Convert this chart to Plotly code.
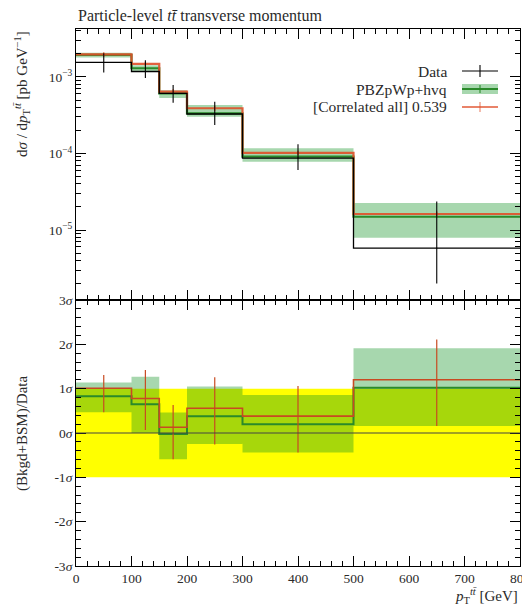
import plotly.graph_objects as go
from plotly.subplots import make_subplots

# ---------------- data ----------------
edges = [0, 100, 150, 200, 300, 500, 800]
centers = [50, 125, 175, 250, 400, 650]

data_val = [1.55e-3, 1.18e-3, 6.1e-4, 3.28e-4, 8.7e-5, 5.8e-6]
data_hi = [2.04e-3, 1.66e-3, 7.86e-4, 4.76e-4, 1.32e-4, 2.35e-5]
data_lo = [1.14e-3, 0.97e-3, 4.61e-4, 2.36e-4, 6.1e-5, 2.0e-6]

mc_val = [1.94e-3, 1.30e-3, 6.12e-4, 3.35e-4, 9.08e-5, 1.49e-5]
mc_hi = [2.08e-3, 1.42e-3, 6.7e-4, 4.3e-4, 1.17e-4, 2.25e-5]
mc_lo = [1.80e-3, 1.18e-3, 5.3e-4, 3.03e-4, 7.82e-5, 7.9e-6]

red_val = [1.97e-3, 1.48e-3, 6.43e-4, 3.90e-4, 1.02e-4, 1.62e-5]
red_hi = [2.10e-3, 1.58e-3, 6.9e-4, 4.2e-4, 1.09e-4, 1.74e-5]
red_lo = [1.84e-3, 1.38e-3, 6.0e-4, 3.6e-4, 0.95e-4, 1.50e-5]

# ratio panel, in units of sigma
r_mc = [0.83, 0.65, -0.02, 0.38, 0.20, 1.02]
r_mc_hi = [1.14, 1.27, 0.46, 1.05, 0.86, 1.91]
r_mc_lo = [0.47, 0.00, -0.59, -0.25, -0.44, 0.16]
r_red = [1.01, 0.78, 0.13, 0.56, 0.38, 1.20]
r_red_hi = [1.31, 1.42, 0.63, 1.26, 1.06, 2.11]
r_red_lo = [0.47, 0.07, -0.59, -0.26, -0.44, 0.16]
band_sigma = [-1.0, 1.0]

x_ticks = [0, 100, 200, 300, 400, 500, 600, 700, 800]
y_log_ticks = [1e-5, 1e-4, 1e-3]
y_log_text = ["10<sup>−5</sup>", "10<sup>−4</sup>", "10<sup>−3</sup>"]
sig_ticks = [-3, -2, -1, 0, 1, 2, 3]
sig_text = ["-3<i>σ</i>", "-2<i>σ</i>", "-1<i>σ</i>", "0<i>σ</i>", "1<i>σ</i>", "2<i>σ</i>", "3<i>σ</i>"]

labels = ["Data", "PBZpWp+hvq", "[Correlated all] 0.539"]

# ---------------- style ----------------
FONT = "Liberation Serif"
TXT = "#2a2a2a"
BLACK = "#000000"
GREEN = "#2a8a2a"
GREEN_BAND = "rgba(10,145,30,0.36)"
RED = "#e0502a"
RED2 = "#c84a22"
YELLOW = "#ffff00"

fig = make_subplots(rows=2, cols=1, shared_xaxes=True, vertical_spacing=0.0,
                    row_heights=[0.5047, 0.4953])


def band_poly(lo, hi):
    xs, ys = [], []
    for i in range(len(lo)):
        a, b = edges[i], edges[i + 1]
        xs += [a, b, b, a, a, None]
        ys += [lo[i], lo[i], hi[i], hi[i], lo[i], None]
    return xs, ys


def step(vals):
    return edges, list(vals) + [vals[-1]]


def errs(val, lo, hi):
    return [h - v for v, h in zip(val, hi)], [v - l for v, l in zip(val, lo)]


# ---- upper panel ----
bx, by = band_poly(mc_lo, mc_hi)
fig.add_trace(go.Scatter(x=bx, y=by, fill="toself", fillcolor=GREEN_BAND, mode="none",
                         hoverinfo="skip", showlegend=False), row=1, col=1)
sx, sy = step(mc_val)
fig.add_trace(go.Scatter(x=sx, y=sy, mode="lines", line=dict(color=GREEN, width=2.2, shape="hv"),
                         showlegend=False), row=1, col=1)
sx, sy = step(red_val)
fig.add_trace(go.Scatter(x=sx, y=sy, mode="lines", line=dict(color=RED, width=2.2, shape="hv"),
                         opacity=0.9, showlegend=False), row=1, col=1)
up, dn = errs(red_val, red_lo, red_hi)
fig.add_trace(go.Scatter(x=centers, y=red_val, mode="markers", marker=dict(size=1, color=RED),
                         error_y=dict(type="data", symmetric=False, array=up, arrayminus=dn,
                                      width=0, thickness=1.2, color=RED),
                         showlegend=False), row=1, col=1)
sx, sy = step(data_val)
fig.add_trace(go.Scatter(x=sx, y=sy, mode="lines", line=dict(color=BLACK, width=1.3, shape="hv"),
                         showlegend=False), row=1, col=1)
up, dn = errs(data_val, data_lo, data_hi)
fig.add_trace(go.Scatter(x=centers, y=data_val, mode="markers", marker=dict(size=1, color=BLACK),
                         error_y=dict(type="data", symmetric=False, array=up, arrayminus=dn,
                                      width=0, thickness=1.1, color=BLACK),
                         showlegend=False), row=1, col=1)

# ---- lower panel ----
fig.add_trace(go.Scatter(x=[edges[0], edges[-1], edges[-1], edges[0], edges[0]],
                         y=[band_sigma[0], band_sigma[0], band_sigma[1], band_sigma[1], band_sigma[0]],
                         fill="toself", fillcolor=YELLOW, mode="none", hoverinfo="skip",
                         showlegend=False), row=2, col=1)
bx, by = band_poly(r_mc_lo, r_mc_hi)
fig.add_trace(go.Scatter(x=bx, y=by, fill="toself", fillcolor=GREEN_BAND, mode="none",
                         hoverinfo="skip", showlegend=False), row=2, col=1)
fig.add_hline(y=0, line=dict(color="#444444", width=1), row=2, col=1)
sx, sy = step(r_mc)
fig.add_trace(go.Scatter(x=sx, y=sy, mode="lines", line=dict(color=GREEN, width=2, shape="hv"),
                         showlegend=False), row=2, col=1)
sx, sy = step(r_red)
fig.add_trace(go.Scatter(x=sx, y=sy, mode="lines", line=dict(color=RED2, width=1.6, shape="hv"),
                         showlegend=False), row=2, col=1)
up, dn = errs(r_red, r_red_lo, r_red_hi)
fig.add_trace(go.Scatter(x=centers, y=r_red, mode="markers", marker=dict(size=1, color=RED2),
                         error_y=dict(type="data", symmetric=False, array=up, arrayminus=dn,
                                      width=0, thickness=1.2, color=RED2),
                         showlegend=False), row=2, col=1)

# ---------------- axes ----------------
tickfont = dict(family=FONT, size=13.5, color=TXT)
common_x = dict(range=[0, 800], showline=True, linecolor=BLACK, linewidth=1, mirror="allticks",
                ticks="inside", ticklen=10, tickcolor=BLACK, tickvals=x_ticks, automargin=False,
                ticklabeloverflow="allow",
                minor=dict(dtick=20, tick0=0, ticklen=5, ticks="inside", tickcolor=BLACK),
                showgrid=False, zeroline=False, tickfont=tickfont)
fig.update_xaxes(**common_x, showticklabels=False, row=1, col=1)
fig.update_xaxes(**common_x, showticklabels=True, ticktext=[str(v) for v in x_ticks], row=2, col=1)

minor_log = [k * 10 ** e for e in (-6, -5, -4, -3) for k in range(2, 10)]
fig.update_yaxes(type="log", range=[-5.915, -2.373], showline=True, linecolor=BLACK, linewidth=1,
                 mirror="allticks", ticks="inside", ticklen=10, tickcolor=BLACK, automargin=False,
                 tickvals=y_log_ticks, ticktext=y_log_text,
                 minor=dict(tickvals=minor_log, ticklen=5, ticks="inside", tickcolor=BLACK),
                 showgrid=False, zeroline=False, tickfont=tickfont, row=1, col=1)
fig.update_yaxes(range=[-3, 3], showline=True, linecolor=BLACK, linewidth=1, mirror="allticks",
                 ticks="inside", ticklen=10, tickcolor=BLACK, tickvals=sig_ticks, ticktext=sig_text,
                 automargin=False,
                 minor=dict(dtick=0.2, tick0=0, ticklen=5, ticks="inside", tickcolor=BLACK),
                 showgrid=False, zeroline=False, tickfont=tickfont, row=2, col=1)

# ---------------- text ----------------
# pixel helpers (window coordinates; page body has an 8px offset)
def px_x(p):
    return (p - 76) / 444


def px_y(p):
    return (566 - p) / 537


ann = []
ann.append(dict(text="Particle-level <i>tt̄</i> transverse momentum", xref="paper", yref="paper",
                x=0.0, y=1.0, xanchor="left", yanchor="bottom", yshift=3, showarrow=False,
                font=dict(family=FONT, size=16, color=TXT)))
ann.append(dict(text="d<i>σ</i> / d<i>p</i><sub>T</sub><sup><i>tt̄</i></sup> [pb GeV<sup>−1</sup>]",
                xref="paper", yref="paper", x=px_x(22), y=1.0, xanchor="center", yanchor="top",
                textangle=-90, showarrow=False, font=dict(family=FONT, size=15, color=TXT)))
ann.append(dict(text="(Bkgd+BSM)/Data", xref="paper", yref="paper", x=px_x(22), y=px_y(434),
                xanchor="center", yanchor="middle", textangle=-90, showarrow=False,
                font=dict(family=FONT, size=15, color=TXT)))
ann.append(dict(text="<i>p</i><sub>T</sub><sup><i>tt̄</i></sup> [GeV]", xref="paper", yref="paper",
                x=1.0, y=px_y(584), xanchor="right", yanchor="top", showarrow=False,
                font=dict(family=FONT, size=15, color=TXT)))

leg_y_px = [71, 89, 107]
for lab, ypx in zip(labels, leg_y_px):
    ann.append(dict(text=lab, xref="paper", yref="paper", x=px_x(449), y=px_y(ypx),
                    xanchor="right", yanchor="middle", showarrow=False,
                    font=dict(family=FONT, size=15.5, color=TXT)))

fig.update_layout(annotations=ann)

x0, x1, xc = px_x(462), px_x(498), px_x(480)
shapes = []
shapes.append(dict(type="line", xref="paper", yref="paper", x0=x0, x1=x1, y0=px_y(71), y1=px_y(71),
                   line=dict(color=BLACK, width=1.2)))
shapes.append(dict(type="line", xref="paper", yref="paper", x0=xc, x1=xc, y0=px_y(65), y1=px_y(77),
                   line=dict(color=BLACK, width=1.1)))
shapes.append(dict(type="rect", xref="paper", yref="paper", x0=x0, x1=x1, y0=px_y(94), y1=px_y(84),
                   fillcolor=GREEN_BAND, line=dict(width=0)))
shapes.append(dict(type="line", xref="paper", yref="paper", x0=x0, x1=x1, y0=px_y(89), y1=px_y(89),
                   line=dict(color=GREEN, width=2.2)))
shapes.append(dict(type="line", xref="paper", yref="paper", x0=xc, x1=xc, y0=px_y(85), y1=px_y(93),
                   line=dict(color=GREEN, width=1.1)))
shapes.append(dict(type="line", xref="paper", yref="paper", x0=x0, x1=x1, y0=px_y(107), y1=px_y(107),
                   line=dict(color=RED, width=2), opacity=0.7))
shapes.append(dict(type="line", xref="paper", yref="paper", x0=xc, x1=xc, y0=px_y(102), y1=px_y(112),
                   line=dict(color=RED, width=1.1), opacity=0.7))
for s in shapes:
    fig.add_shape(**s)

# figure sized to the window minus the page's 8px body offset
fig.update_layout(width=522, height=598, margin=dict(l=68, r=10, t=21, b=40),
                  plot_bgcolor="white", paper_bgcolor="white", showlegend=False,
                  font=dict(family=FONT, color=TXT))

fig.write_html("out.html")
